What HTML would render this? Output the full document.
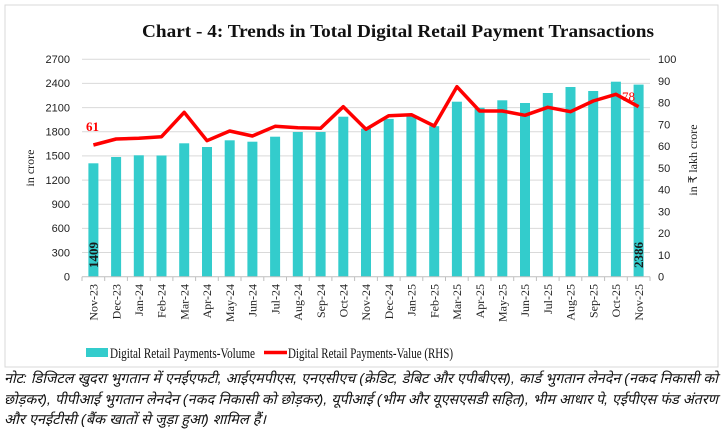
<!DOCTYPE html>
<html><head><meta charset="utf-8"><style>
html,body{margin:0;padding:0;background:#fff}
svg{display:block}
</style></head><body>
<svg width="724" height="431" viewBox="0 0 724 431" xmlns="http://www.w3.org/2000/svg">
<rect x="0" y="0" width="724" height="431" fill="#fff"/>
<rect x="5" y="5" width="713" height="362" fill="none" stroke="#d9d9d9" stroke-width="1"/>
<text x="398" y="37" text-anchor="middle" font-family="Liberation Serif, serif" font-weight="bold" font-size="18" textLength="512" lengthAdjust="spacingAndGlyphs" fill="#111">Chart - 4: Trends in Total Digital Retail Payment Transactions</text>
<g stroke="#d9d9d9" stroke-width="1">
<line x1="82" x2="650" y1="252.5" y2="252.5"/><line x1="82" x2="650" y1="228.4" y2="228.4"/>
<line x1="82" x2="650" y1="204.2" y2="204.2"/><line x1="82" x2="650" y1="180.1" y2="180.1"/>
<line x1="82" x2="650" y1="155.9" y2="155.9"/><line x1="82" x2="650" y1="131.7" y2="131.7"/>
<line x1="82" x2="650" y1="107.6" y2="107.6"/><line x1="82" x2="650" y1="83.4" y2="83.4"/>
<line x1="82" x2="650" y1="59.3" y2="59.3"/>
</g>
<g font-family="Liberation Sans, sans-serif" font-size="11" fill="#222" text-anchor="end">
<text x="70" y="280.5">0</text><text x="70" y="256.3">300</text><text x="70" y="232.2">600</text>
<text x="70" y="208">900</text><text x="70" y="183.9">1200</text><text x="70" y="159.7">1500</text>
<text x="70" y="135.5">1800</text><text x="70" y="111.4">2100</text><text x="70" y="87.2">2400</text>
<text x="70" y="63.1">2700</text>
</g>
<g font-family="Liberation Sans, sans-serif" font-size="11" fill="#222">
<text x="658" y="280.5">0</text><text x="658" y="258.8">10</text><text x="658" y="237">20</text>
<text x="658" y="215.3">30</text><text x="658" y="193.5">40</text><text x="658" y="171.8">50</text>
<text x="658" y="150.1">60</text><text x="658" y="128.3">70</text><text x="658" y="106.6">80</text>
<text x="658" y="84.8">90</text><text x="658" y="63.1">100</text>
</g>
<text transform="translate(34,168) rotate(-90)" text-anchor="middle" font-family="Liberation Serif, serif" font-size="12" fill="#222">in crore</text>
<text transform="translate(697,160) rotate(-90)" text-anchor="middle" font-family="Liberation Serif, serif" font-size="12" fill="#222">in ₹ lakh crore</text>
<g fill="#33cccc">
<rect x="88.4" y="163.3" width="10" height="113.4"/><rect x="111.1" y="157" width="10" height="119.7"/>
<rect x="133.8" y="155.3" width="10" height="121.4"/><rect x="156.5" y="155.5" width="10" height="121.2"/>
<rect x="179.2" y="143.3" width="10" height="133.4"/><rect x="202" y="147" width="10" height="129.7"/>
<rect x="224.7" y="140.3" width="10" height="136.4"/><rect x="247.4" y="141.7" width="10" height="135"/>
<rect x="270.1" y="136.7" width="10" height="140"/><rect x="292.8" y="132" width="10" height="144.7"/>
<rect x="315.6" y="132" width="10" height="144.7"/><rect x="338.3" y="116.7" width="10" height="160"/>
<rect x="361" y="128.6" width="10" height="148.1"/><rect x="383.7" y="118.9" width="10" height="157.8"/>
<rect x="406.4" y="116.5" width="10" height="160.2"/><rect x="429.2" y="126.2" width="10" height="150.5"/>
<rect x="451.9" y="101.7" width="10" height="175"/><rect x="474.6" y="107.7" width="10" height="169"/>
<rect x="497.3" y="100.3" width="10" height="176.4"/><rect x="520" y="103" width="10" height="173.7"/>
<rect x="542.8" y="93" width="10" height="183.7"/><rect x="565.5" y="87" width="10" height="189.7"/>
<rect x="588.2" y="91" width="10" height="185.7"/><rect x="610.9" y="81.7" width="10" height="195"/>
<rect x="633.6" y="84.6" width="10" height="192.1"/>
</g>
<line x1="82" x2="650" y1="276.7" y2="276.7" stroke="#bfbfbf"/>
<g stroke="#bfbfbf">
<line x1="82" x2="82" y1="276.7" y2="281"/><line x1="104.7" x2="104.7" y1="276.7" y2="281"/><line x1="127.4" x2="127.4" y1="276.7" y2="281"/><line x1="150.2" x2="150.2" y1="276.7" y2="281"/><line x1="172.9" x2="172.9" y1="276.7" y2="281"/><line x1="195.6" x2="195.6" y1="276.7" y2="281"/><line x1="218.3" x2="218.3" y1="276.7" y2="281"/><line x1="241" x2="241" y1="276.7" y2="281"/><line x1="263.8" x2="263.8" y1="276.7" y2="281"/><line x1="286.5" x2="286.5" y1="276.7" y2="281"/><line x1="309.2" x2="309.2" y1="276.7" y2="281"/><line x1="331.9" x2="331.9" y1="276.7" y2="281"/><line x1="354.6" x2="354.6" y1="276.7" y2="281"/><line x1="377.4" x2="377.4" y1="276.7" y2="281"/><line x1="400.1" x2="400.1" y1="276.7" y2="281"/><line x1="422.8" x2="422.8" y1="276.7" y2="281"/><line x1="445.5" x2="445.5" y1="276.7" y2="281"/><line x1="468.2" x2="468.2" y1="276.7" y2="281"/><line x1="491" x2="491" y1="276.7" y2="281"/><line x1="513.7" x2="513.7" y1="276.7" y2="281"/><line x1="536.4" x2="536.4" y1="276.7" y2="281"/><line x1="559.1" x2="559.1" y1="276.7" y2="281"/><line x1="581.8" x2="581.8" y1="276.7" y2="281"/><line x1="604.6" x2="604.6" y1="276.7" y2="281"/><line x1="627.3" x2="627.3" y1="276.7" y2="281"/><line x1="650" x2="650" y1="276.7" y2="281"/>
</g>
<polyline fill="none" stroke="#ff0000" stroke-width="3.5" stroke-linejoin="round" points="93.4,145 116.1,139 138.8,138.3 161.5,136.7 184.2,112.3 207,140.7 229.7,131 252.4,136 275.1,126.3 297.8,127.7 320.6,128.3 343.3,106.7 366,129.3 388.7,115.7 411.4,114.7 434.2,126 456.9,86.7 479.6,111 502.3,111 525,115.3 547.8,107.3 570.5,111.7 593.2,101 615.9,94.3 638.6,106.7"/>
<text x="86" y="131" font-family="Liberation Serif, serif" font-weight="bold" font-size="13" fill="#ff0000">61</text>
<text x="622" y="101" font-family="Liberation Serif, serif" font-size="13" fill="#ff0000">78</text>
<text transform="translate(98,268) rotate(-90)" font-family="Liberation Serif, serif" font-weight="bold" font-size="13" fill="#1a1a1a">1409</text>
<text transform="translate(643,268) rotate(-90)" font-family="Liberation Serif, serif" font-weight="bold" font-size="13" fill="#1a1a1a">2386</text>
<g font-family="Liberation Serif, serif" font-size="12" fill="#222" text-anchor="end">
<text transform="translate(97.6,284) rotate(-90)">Nov-23</text><text transform="translate(120.3,284) rotate(-90)">Dec-23</text>
<text transform="translate(143,284) rotate(-90)">Jan-24</text><text transform="translate(165.7,284) rotate(-90)">Feb-24</text>
<text transform="translate(188.4,284) rotate(-90)">Mar-24</text><text transform="translate(211.2,284) rotate(-90)">Apr-24</text>
<text transform="translate(233.9,284) rotate(-90)">May-24</text><text transform="translate(256.6,284) rotate(-90)">Jun-24</text>
<text transform="translate(279.3,284) rotate(-90)">Jul-24</text><text transform="translate(302,284) rotate(-90)">Aug-24</text>
<text transform="translate(324.8,284) rotate(-90)">Sep-24</text><text transform="translate(347.5,284) rotate(-90)">Oct-24</text>
<text transform="translate(370.2,284) rotate(-90)">Nov-24</text><text transform="translate(392.9,284) rotate(-90)">Dec-24</text>
<text transform="translate(415.6,284) rotate(-90)">Jan-25</text><text transform="translate(438.4,284) rotate(-90)">Feb-25</text>
<text transform="translate(461.1,284) rotate(-90)">Mar-25</text><text transform="translate(483.8,284) rotate(-90)">Apr-25</text>
<text transform="translate(506.5,284) rotate(-90)">May-25</text><text transform="translate(529.2,284) rotate(-90)">Jun-25</text>
<text transform="translate(552,284) rotate(-90)">Jul-25</text><text transform="translate(574.7,284) rotate(-90)">Aug-25</text>
<text transform="translate(597.4,284) rotate(-90)">Sep-25</text><text transform="translate(620.1,284) rotate(-90)">Oct-25</text>
<text transform="translate(642.8,284) rotate(-90)">Nov-25</text>
</g>
<rect x="86" y="348" width="22" height="9" fill="#33cccc"/>
<text x="110" y="358" font-family="Liberation Serif, serif" font-size="15" fill="#111" textLength="145" lengthAdjust="spacingAndGlyphs">Digital Retail Payments-Volume</text>
<line x1="264" x2="287" y1="352.5" y2="352.5" stroke="#ff0000" stroke-width="3.5"/>
<text x="288" y="358" font-family="Liberation Serif, serif" font-size="15" fill="#111" textLength="165" lengthAdjust="spacingAndGlyphs">Digital Retail Payments-Value (RHS)</text>
<g font-family="Liberation Sans, 'Noto Sans CJK SC', sans-serif" font-style="italic" font-size="14" fill="#111">
<text x="4" y="383" textLength="714" lengthAdjust="spacingAndGlyphs">नोट: डिजिटल खुदरा भुगतान में एनईएफटी, आईएमपीएस, एनएसीएच (क्रेडिट, डेबिट और एपीबीएस), कार्ड भुगतान लेनदेन (नकद निकासी को</text>
<text x="4" y="404" textLength="714" lengthAdjust="spacingAndGlyphs">छोड़कर), पीपीआई भुगतान लेनदेन (नकद निकासी को छोड़कर), यूपीआई (भीम और यूएसएसडी सहित), भीम आधार पे, एईपीएस फंड अंतरण</text>
<text x="4" y="424" textLength="262" lengthAdjust="spacingAndGlyphs">और एनईटीसी (बैंक खातों से जुड़ा हुआ) शामिल हैं।</text>
</g>
</svg>
</body></html>
